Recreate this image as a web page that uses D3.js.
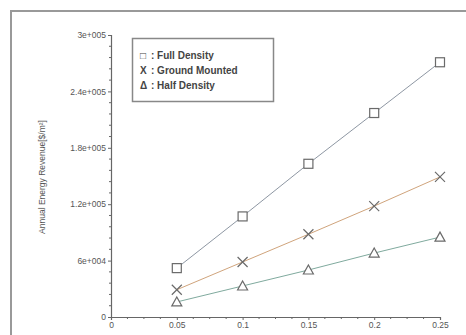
<!DOCTYPE html>
<html>
<head>
<meta charset="utf-8">
<script src="https://cdn.jsdelivr.net/npm/d3@7"></script>
<style>
  body { margin: 0; background: #fff; }
  svg { display: block; font-family: "Liberation Sans", Arial, sans-serif; }
</style>
</head>
<body>
<svg id="chart" width="466" height="335"></svg>
<script>
const xValues = [0.05, 0.1, 0.15, 0.2, 0.25];
const fullDensity = [52000, 107000, 163000, 217000, 271000];
const groundMounted = [29000, 58500, 88000, 118000, 149000];
const halfDensity = [16000, 33000, 50000, 68000, 85000];
const xTicks = [0, 0.05, 0.1, 0.15, 0.2, 0.25];
const xTickLabels = ["0", "0.05", "0.1", "0.15", "0.2", "0.25"];
const yTicks = [0, 60000, 120000, 180000, 240000, 300000];
const yTickLabels = ["0", "6e+004", "1.2e+005", "1.8e+005", "2.4e+005", "3e+005"];

const series = [
  { name: "Full Density", key: "\u25A1", values: fullDensity, color: "#8e97a3", marker: "square" },
  { name: "Ground Mounted", key: "X", values: groundMounted, color: "#d0a47c", marker: "cross" },
  { name: "Half Density", key: "\u0394", values: halfDensity, color: "#80aa9e", marker: "triangle" }
];

const svg = d3.select("#chart");

// outer frame (cut off at right/bottom)
svg.append("path")
  .attr("d", "M11,340 L11,11 L470,11")
  .attr("fill", "none")
  .attr("stroke", "#999")
  .attr("stroke-width", 2);

const x = d3.scaleLinear().domain([0, 0.25]).range([111, 440]);
const y = d3.scaleLinear().domain([0, 300000]).range([317, 35]);

// minor ticks
const xMinor = d3.range(0, 0.2501, 0.0125).filter(v => !xTicks.some(t => Math.abs(t - v) < 1e-6));
const yMinor = d3.range(0, 300001, 12000).filter(v => v % 60000 !== 0);

const axisColor = "#666";

const xAxis = svg.append("g").attr("transform", "translate(0,317)");
xAxis.call(d3.axisBottom(x).tickValues(xTicks).tickFormat((d, i) => xTickLabels[i]).tickSize(3).tickPadding(2));
xAxis.append("g").selectAll("line").data(xMinor).join("line")
  .attr("x1", d => x(d)).attr("x2", d => x(d)).attr("y1", 0).attr("y2", 2)
  .attr("stroke", axisColor);

const yAxis = svg.append("g").attr("transform", "translate(111,0)");
yAxis.call(d3.axisLeft(y).tickValues(yTicks).tickFormat((d, i) => yTickLabels[i]).tickSize(3).tickPadding(2));
yAxis.append("g").selectAll("line").data(yMinor).join("line")
  .attr("y1", d => y(d)).attr("y2", d => y(d)).attr("x1", 0).attr("x2", -2)
  .attr("stroke", axisColor);

[xAxis, yAxis].forEach(g => {
  g.select(".domain").attr("stroke", axisColor).attr("stroke-width", 1.2);
  g.selectAll(".tick line").attr("stroke", axisColor);
  g.selectAll(".tick text").attr("fill", "#555").attr("font-size", 8.5)
    .attr("font-family", "Liberation Sans, Arial, sans-serif");
});

// y axis title
svg.append("text")
  .attr("transform", "translate(45,177) rotate(-90)")
  .attr("text-anchor", "middle")
  .attr("font-size", 8.5)
  .attr("fill", "#555")
  .text("Annual Energy Revenue[$/m\u00B2]");

// lines
const line = d3.line().x((d, i) => x(xValues[i])).y(d => y(d));
svg.append("g").selectAll("path").data(series).join("path")
  .attr("d", s => line(s.values))
  .attr("fill", "none")
  .attr("stroke", s => s.color)
  .attr("stroke-width", 1);

// markers
const markerColor = "#6a6a6a";
series.forEach(s => {
  const g = svg.append("g");
  s.values.forEach((v, i) => {
    const cx = x(xValues[i]), cy = y(v);
    if (s.marker === "square") {
      g.append("rect").attr("x", cx - 4.5).attr("y", cy - 4.5).attr("width", 9).attr("height", 9)
        .attr("fill", "#fff").attr("stroke", markerColor).attr("stroke-width", 1.2);
    } else if (s.marker === "cross") {
      g.append("path").attr("d", `M${cx - 5},${cy - 5}L${cx + 5},${cy + 5}M${cx - 5},${cy + 5}L${cx + 5},${cy - 5}`)
        .attr("stroke", markerColor).attr("stroke-width", 1.2).attr("fill", "none");
    } else {
      g.append("path").attr("d", `M${cx},${cy - 5}L${cx + 5},${cy + 4}L${cx - 5},${cy + 4}Z`)
        .attr("fill", "#fff").attr("stroke", markerColor).attr("stroke-width", 1.2);
    }
  });
});

// legend
const legend = svg.append("g");
legend.append("rect")
  .attr("x", 132.5).attr("y", 38.5).attr("width", 141).attr("height", 63)
  .attr("fill", "#fff").attr("stroke", "#888").attr("stroke-width", 1.5);
series.forEach((s, i) => {
  const row = legend.append("g").attr("transform", `translate(140,${59 + i * 15})`);
  row.append("text").attr("font-size", 10).attr("fill", "#444").attr("font-weight", "bold")
    .text(s.key);
  row.append("text").attr("x", 11).attr("font-size", 10).attr("fill", "#444").attr("font-weight", "bold")
    .text(": " + s.name);
});
</script>
</body>
</html>
